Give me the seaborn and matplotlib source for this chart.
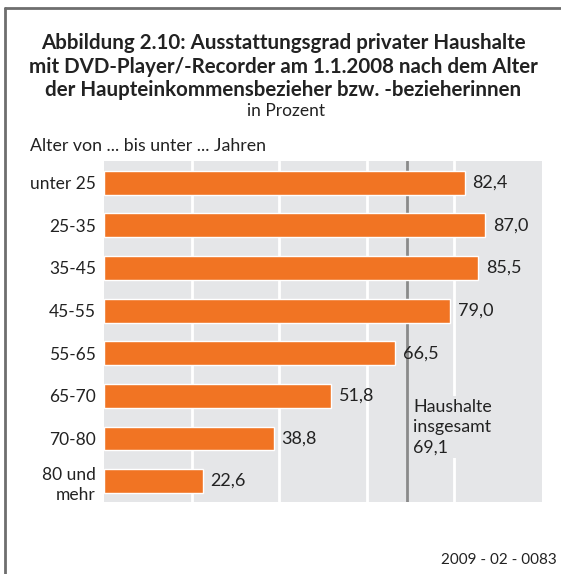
import matplotlib
matplotlib.use("Agg")
import matplotlib.pyplot as plt
import seaborn as sns
import pandas as pd
from matplotlib.lines import Line2D

categories = ["unter 25", "25-35", "35-45", "45-55", "55-65", "65-70", "70-80", "80 und\nmehr"]
values = [82.4, 87.0, 85.5, 79.0, 66.5, 51.8, 38.8, 22.6]
total_value = 69.1
total_label = "Haushalte\ninsgesamt\n69,1"
title_lines = ["Abbildung 2.10: Ausstattungsgrad privater Haushalte",
               "mit DVD-Player/-Recorder am 1.1.2008 nach dem Alter",
               "der Haupteinkommensbezieher bzw. -bezieherinnen"]
subtitle = "in Prozent"
axis_caption = "Alter von ... bis unter ... Jahren"
footer = "2009 - 02 - 0083"

df = pd.DataFrame({"Alter": categories, "Wert": values})

sns.set_theme(style="white")
FONT = "Lato"
plt.rcParams["font.family"] = [FONT, "DejaVu Sans"]

ORANGE = "#F17423"
GRAY_BG = "#E5E6E8"
TEXT = "#222222"

fig = plt.figure(figsize=(5.61, 5.74), dpi=100)
ax = fig.add_axes([104 / 561, 1 - 502 / 574, 438 / 561, 341 / 574])
ax.set_facecolor(GRAY_BG)

sns.barplot(data=df, y="Alter", x="Wert", orient="h", color=ORANGE,
            width=0.56, saturation=1, ax=ax, zorder=3)

ax.set_xlim(0, 100)
ax.set_ylim(7.49, -0.51)
for xv in [20, 40, 60, 80]:
    ax.axvline(xv, color="white", lw=2, zorder=1)
ax.axvline(total_value, color="#8A8A8A", lw=2, zorder=2)

for i, v in enumerate(values):
    ax.annotate(f"{v:.1f}".replace(".", ","), xy=(v, i), xytext=(5.5, 0),
                textcoords="offset points", va="center", ha="left",
                fontsize=13, color=TEXT, zorder=5)

ax.text(70.6, 5.08, total_label, ha="left", va="top", fontsize=12.8,
        color=TEXT, linespacing=1.32, zorder=5,
        bbox=dict(facecolor=GRAY_BG, edgecolor="none", pad=2))

ax.set_xlabel("")
ax.set_ylabel("")
ax.set_xticks([])
ax.tick_params(axis="y", length=0, pad=5.8, labelsize=12.5, labelcolor=TEXT)
for lab in ax.get_yticklabels():
    lab.set_horizontalalignment("right")
    lab.set_multialignment("right")
    lab.set_linespacing(1.3)
for s in ax.spines.values():
    s.set_visible(False)

for yy, line in zip([43, 67, 90], title_lines):
    fig.text(283 / 561, 1 - yy / 574, line, ha="center", va="center",
             fontsize=14.8, fontweight="bold", color=TEXT)
fig.text(286 / 561, 1 - 111 / 574, subtitle, ha="center", va="center",
         fontsize=12.5, color=TEXT)
fig.text(30 / 561, 1 - 146 / 574, axis_caption, ha="left", va="center",
         fontsize=12.8, color=TEXT)
fig.text(557 / 561, 1 - 560 / 574, footer, ha="right", va="center",
         fontsize=11, color=TEXT)

frame_col = "#6E6E6E"
fig.add_artist(Line2D([5 / 561, 5 / 561], [0, 1 - 8 / 574], color=frame_col, lw=2,
                      transform=fig.transFigure))
fig.add_artist(Line2D([5 / 561, 1], [1 - 8 / 574, 1 - 8 / 574], color=frame_col, lw=2,
                      transform=fig.transFigure))

fig.savefig("out.png", dpi=100)
